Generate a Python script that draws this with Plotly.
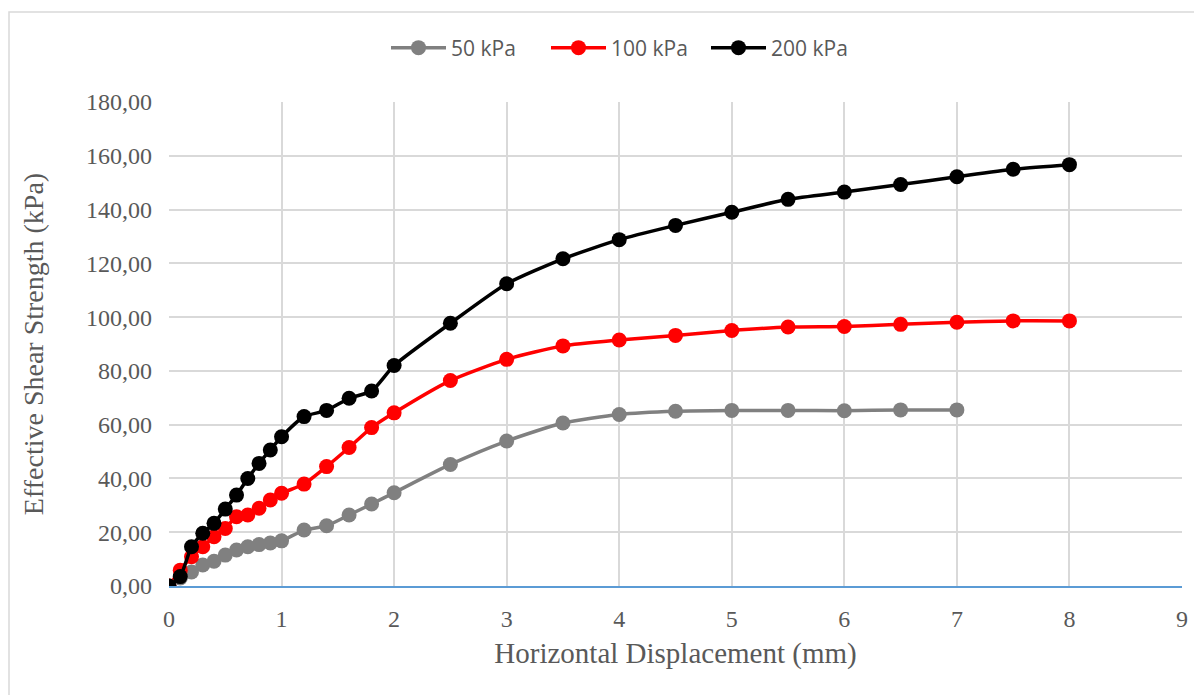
import plotly.graph_objects as go

x50 = [0, 0.1, 0.2, 0.3, 0.4, 0.5, 0.6, 0.7, 0.8, 0.9, 1.0, 1.2, 1.4, 1.6, 1.8, 2.0,
       2.5, 3.0, 3.5, 4.0, 4.5, 5.0, 5.5, 6.0, 6.5, 7.0]
y50 = [0, 3.0, 5.2, 7.8, 9.2, 11.5, 13.4, 14.6, 15.4, 16.0, 16.8, 20.8, 22.4, 26.4, 30.5, 34.7,
       45.2, 53.9, 60.6, 63.8, 65.0, 65.3, 65.3, 65.2, 65.5, 65.5]

x100 = [0, 0.1, 0.2, 0.3, 0.4, 0.5, 0.6, 0.7, 0.8, 0.9, 1.0, 1.2, 1.4, 1.6, 1.8, 2.0,
        2.5, 3.0, 3.5, 4.0, 4.5, 5.0, 5.5, 6.0, 6.5, 7.0, 7.5, 8.0]
y100 = [0, 5.9, 10.9, 14.6, 18.3, 21.4, 25.8, 26.4, 28.9, 32.0, 34.5, 37.9, 44.4, 51.5, 58.9, 64.4,
        76.4, 84.3, 89.3, 91.5, 93.2, 95.0, 96.3, 96.5, 97.3, 98.1, 98.6, 98.6]

x200 = [0, 0.1, 0.2, 0.3, 0.4, 0.5, 0.6, 0.7, 0.8, 0.9, 1.0, 1.2, 1.4, 1.6, 1.8, 2.0,
        2.5, 3.0, 3.5, 4.0, 4.5, 5.0, 5.5, 6.0, 6.5, 7.0, 7.5, 8.0]
y200 = [0, 3.5, 14.6, 19.6, 23.3, 28.6, 33.8, 40.0, 45.6, 50.6, 55.5, 63.0, 65.3, 69.8, 72.5, 82.0,
        97.7, 112.4, 121.7, 128.8, 134.1, 139.0, 143.8, 146.5, 149.3, 152.2, 155.0, 156.7]

series = [("50 kPa", x50, y50, "#808080"),
          ("100 kPa", x100, y100, "#FF0000"),
          ("200 kPa", x200, y200, "#000000")]

fig = go.Figure()
for name, xs, ys, col in series:
    fig.add_trace(go.Scatter(
        x=xs, y=ys, name=name, mode="lines+markers",
        line=dict(color=col, width=3.5, shape="spline", smoothing=0.6),
        marker=dict(color=col, size=15),
    ))

# page body has an 8px margin, so coordinates are offset by 8px
OFF = 8
W, H = 1202 - OFF, 695 - OFF
l, r, t, b = 169 - OFF, 20, 102 - OFF, 109
pw, ph = W - l - r, H - t - b

def px_x(p):
    return (p - OFF - l) / pw

def px_y(p):
    return (H - b - (p - OFF)) / ph

fig.add_shape(type="rect", xref="paper", yref="paper",
              x0=px_x(9), x1=px_x(1199), y0=px_y(700), y1=px_y(12),
              line=dict(color="#D9D9D9", width=1.5), layer="below")

serif = "Liberation Serif, Times New Roman, serif"
fig.update_layout(
    width=W, height=H,
    margin=dict(l=l, r=r, t=t, b=b),
    plot_bgcolor="white", paper_bgcolor="white",
    separators=", ",
    showlegend=True,
    legend=dict(orientation="h", x=px_x(386), xanchor="left", y=px_y(48), yanchor="middle",
                font=dict(family="Open Sans, Liberation Sans, sans-serif", size=21, color="#595959"),
                itemwidth=55, entrywidth=90, entrywidthmode="pixels", traceorder="normal"),
    xaxis=dict(range=[0, 9], dtick=1, tick0=0, showgrid=True, gridcolor="#D9D9D9", gridwidth=1.5,
               zeroline=False, showline=True, linecolor="#5B9BD5", linewidth=1.5,
               ticks="", ticklabelstandoff=10, tickfont=dict(family=serif, size=24, color="#595959"),
               title=dict(text="Horizontal Displacement (mm)", font=dict(family=serif, size=29, color="#595959"),
                          standoff=12)),
    yaxis=dict(range=[0, 180], dtick=20, tick0=0, tickformat=".2f", showgrid=True, gridcolor="#D9D9D9",
               gridwidth=1.5, zeroline=False, showline=False, ticks="", ticklabelstandoff=16,
               tickfont=dict(family=serif, size=24, color="#595959"),
               title=dict(text="Effective Shear Strength (kPa)", font=dict(family=serif, size=28, color="#595959"),
                          standoff=34)),
)

fig.write_html("out.html")
